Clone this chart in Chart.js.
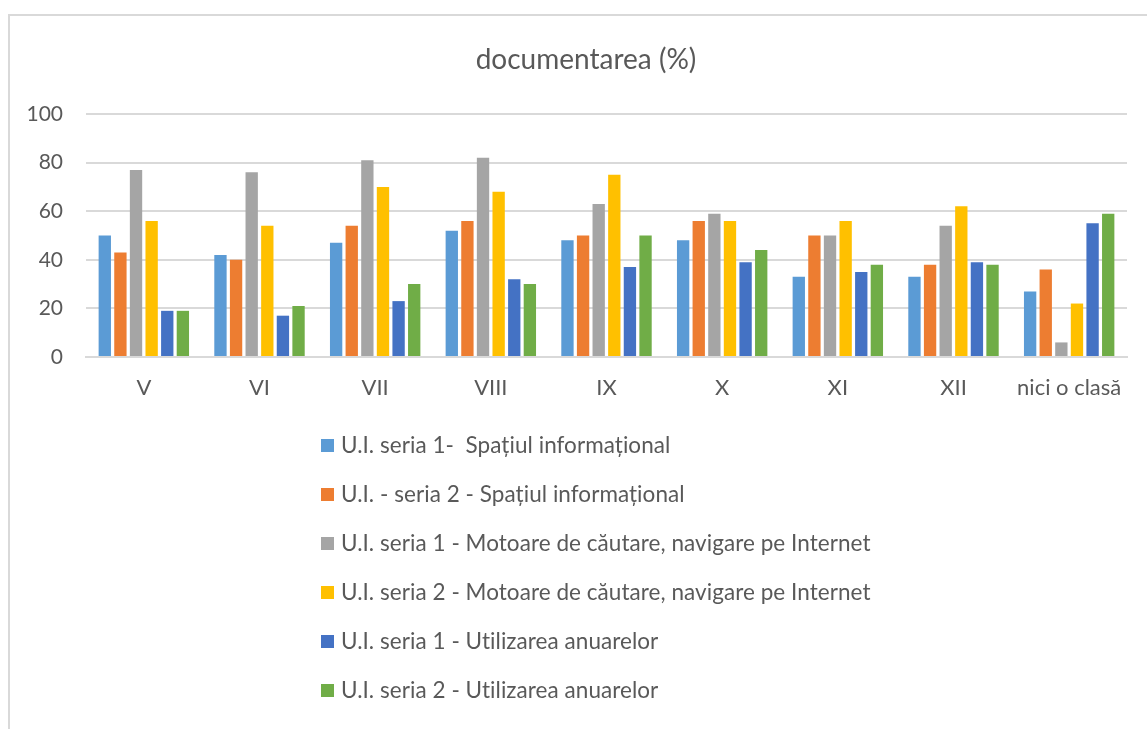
<!DOCTYPE html>
<html>
<head>
<meta charset="utf-8">
<script src="https://cdn.jsdelivr.net/npm/chart.js@4"></script>
<style>
  html, body { margin: 0; padding: 0; background: #fff; overflow: hidden; }
  #frame { position: absolute; left: 8px; top: 14px; width: 1160px; height: 740px; border: 2px solid #d9d9d9; box-sizing: border-box; }
  #doc { position: absolute; left: 0; top: 0; }
</style>
</head>
<body>
<div id="frame"></div>
<canvas id="doc" width="1147" height="729"></canvas>
<script>
var titlu = 'documentarea (%)';
var clase = ['V', 'VI', 'VII', 'VIII', 'IX', 'X', 'XI', 'XII', 'nici o clasă'];

var seria1Spatiu  = [50, 42, 47, 52, 48, 48, 33, 33, 27];
var seria2Spatiu  = [43, 40, 54, 56, 50, 56, 50, 38, 36];
var seria1Motoare = [77, 76, 81, 82, 63, 59, 50, 54, 6];
var seria2Motoare = [56, 54, 70, 68, 75, 56, 56, 62, 22];
var seria1Anuare  = [19, 17, 23, 32, 37, 39, 35, 39, 55];
var seria2Anuare  = [19, 21, 30, 30, 50, 44, 38, 38, 59];

var etichete = [
    'U.I. seria 1-  Spațiul informațional',
    'U.I. - seria 2 - Spațiul informațional',
    'U.I. seria 1 - Motoare de căutare, navigare pe Internet',
    'U.I. seria 2 - Motoare de căutare, navigare pe Internet',
    'U.I. seria 1 - Utilizarea anuarelor',
    'U.I. seria 2 - Utilizarea anuarelor'
];
var culori = ['#5B9BD5', '#ED7D31', '#A5A5A5', '#FFC000', '#4472C4', '#70AD47'];
var valori = [seria1Spatiu, seria2Spatiu, seria1Motoare, seria2Motoare, seria1Anuare, seria2Anuare];

var textColor = '#595959';
var fontName = 'Lato, "Open Sans", sans-serif';

// title centred on the frame, legend as a single column under the axis
var frameText = {
    id: 'frameText',
    afterDraw: function(chart) {
        var ctx = chart.ctx;
        ctx.save();
        ctx.fillStyle = textColor;
        ctx.textBaseline = 'middle';
        ctx.textAlign = 'center';
        ctx.font = '28px ' + fontName;
        ctx.fillText(titlu, 586, 60);

        ctx.font = '22.5px ' + fontName;
        ctx.letterSpacing = '0.05px'; // keeps "ti" from turning into a ligature
        ctx.textAlign = 'left';
        chart.data.datasets.forEach(function(ds, i) {
            var y = 446 + i * 49;
            ctx.fillStyle = ds.backgroundColor;
            ctx.fillRect(321, y - 7, 13, 13);
            ctx.fillStyle = textColor;
            ctx.fillText(ds.label, 341, y);
        });
        ctx.restore();
    }
};

var ctx = document.getElementById('doc').getContext('2d');
var myChart = new Chart(ctx, {
    type: 'bar',
    data: {
        labels: clase,
        datasets: valori.map(function(v, i) {
            return {
                label: etichete[i],
                data: v,
                backgroundColor: culori[i],
                barPercentage: 0.79,
                categoryPercentage: 0.81
            };
        })
    },
    options: {
        responsive: false,
        animation: false,
        devicePixelRatio: 1,
        layout: { padding: { left: 0, right: 20, top: 114, bottom: 322 } },
        plugins: {
            legend: { display: false },
            tooltip: { enabled: false },
            title: { display: false }
        },
        scales: {
            x: {
                grid: { display: false, drawTicks: false },
                border: { display: true, color: '#d9d9d9', width: 2 },
                ticks: { color: textColor, font: { family: fontName, size: 22 }, padding: 18 },
                afterFit: function(s) { s.height = 50; }
            },
            y: {
                min: 0,
                max: 100,
                ticks: { stepSize: 20, color: textColor, font: { family: fontName, size: 21 }, padding: 23 },
                grid: { color: '#d9d9d9', lineWidth: 2, drawTicks: false },
                border: { display: false },
                afterFit: function(s) { s.width = 86; }
            }
        }
    },
    plugins: [frameText]
});
</script>
</body>
</html>
